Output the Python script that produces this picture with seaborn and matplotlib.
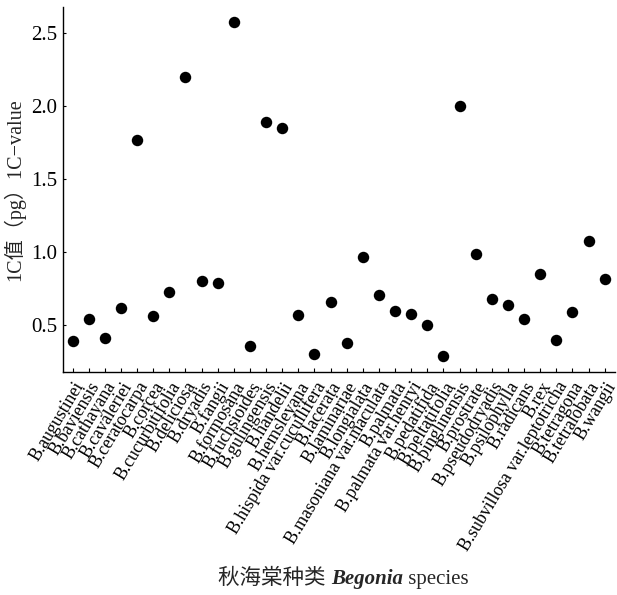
import matplotlib
matplotlib.use('Agg')
import matplotlib.pyplot as plt
import seaborn as sns
import pandas as pd

sns.set_style('ticks')
plt.rcParams['font.family'] = ['Liberation Serif', 'Noto Sans CJK SC']
plt.rcParams['axes.unicode_minus'] = True

# Begonia species and 1C values (pg)
species = ['B.augustinei', 'B.baviensis', 'B.cathayana', 'B.cavaleriei', 'B.ceratocarpa',
           'B.corcea', 'B.cucurbitifolia', 'B.deliciosa', 'B.dryadis', 'B.fangii',
           'B.formosana', 'B.fuchsioides', 'B.gulingensis', 'B.handelii', 'B.hemsleyana',
           'B.hispida var.cucullifera', 'B.lacerata', 'B.laminariae', 'B.longialata',
           'B.masoniana var.maculata', 'B.palmata', 'B.palmata var.henryi', 'B.pedatifida',
           'B.peltatifolia', 'B.pinglinensis', 'B.prostrate', 'B.pseudodryadis',
           'B.psilophylla', 'B.radicans', 'B.rex', 'B.subvillosa var.leptotricha',
           'B.tetragona', 'B.tetralobata', 'B.wangii']
c_values = [0.39, 0.54, 0.41, 0.62, 1.77,
            0.56, 0.73, 2.20, 0.80, 0.79,
            2.58, 0.36, 1.89, 1.85, 0.57,
            0.30, 0.66, 0.38, 0.97,
            0.71, 0.60, 0.58, 0.50,
            0.29, 2.00, 0.99, 0.68,
            0.64, 0.54, 0.85, 0.40,
            0.59, 1.08, 0.82]
y_ticks = [0.5, 1.0, 1.5, 2.0, 2.5]

df = pd.DataFrame({'species': species, 'value': c_values})

fig = plt.figure(figsize=(6.17, 5.95), dpi=100)
ax = fig.add_axes([0.102, 0.375, 0.895, 0.613])

sns.scatterplot(data=df, x='species', y='value', ax=ax, s=68, color='black',
                edgecolor='black', linewidth=0)

ax.set_xlim(-0.6, len(species) - 0.35)
ax.set_ylim(0.18, 2.68)
ax.set_yticks(y_ticks)
ax.set_yticklabels([f'{v:.1f}' for v in y_ticks], fontsize=15)
ax.set_xticks(range(len(species)))
ax.set_xticklabels(species, rotation=59, ha='right', rotation_mode='anchor', fontsize=12.8)
ax.tick_params(axis='both', direction='in', width=0.8, colors='black')
ax.tick_params(axis='x', length=3, pad=5)
ax.tick_params(axis='y', length=2, pad=4)

for side in ['top', 'right']:
    ax.spines[side].set_visible(False)
for side in ['left', 'bottom']:
    ax.spines[side].set_color('black')
    ax.spines[side].set_linewidth(1.0)

ax.set_xlabel('')
ax.set_ylabel('1C值（pg）1C\u2212value', fontsize=14.5)
ax.yaxis.set_label_coords(-0.069, 0.5)

# x label with mixed fonts: Chinese + bold italic genus + regular text
fig.canvas.draw()
renderer = fig.canvas.get_renderer()
x0, base = 218, 595 - 584
pieces = [('秋海棠种类 ', {'fontsize': 15.5}),
          ('Begonia', {'fontsize': 15, 'fontweight': 'bold', 'fontstyle': 'italic'}),
          (' species', {'fontsize': 15})]
for txt, kw in pieces:
    t = fig.text(x0, base, txt, transform=None, va='baseline', ha='left', **kw)
    x0 = t.get_window_extent(renderer).x1

fig.savefig('out.png', dpi=100)
